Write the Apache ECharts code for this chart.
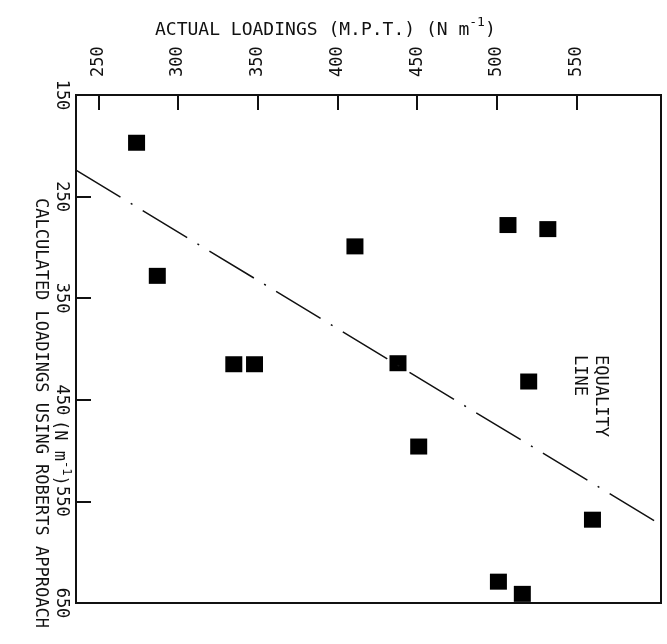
<!DOCTYPE html>
<html>
<head>
<meta charset="utf-8">
<script src="https://cdn.jsdelivr.net/npm/echarts@6/dist/echarts.min.js"></script>
<style>
  html, body { margin: 0; padding: 0; background: #fff; }
  #chart { width: 667px; height: 644px; }
</style>
</head>
<body>
<div id="chart"></div>
<script>
// measured values (N m^-1)
var actualLoadings = [274, 287, 335, 348, 411, 438, 451, 507, 532, 520, 560, 501, 516];
var calculatedLoadings = [197, 328, 415, 415, 299, 414, 496, 278, 282, 432, 568, 629, 641];

// equality line end points as drawn
var equalityX = [236, 603];
var equalityY = [224, 573];

var actualTicks = [250, 300, 350, 400, 450, 500, 550];
var calcTicks = [150, 250, 350, 450, 550, 650];

function renderLoadingsChart(chartID) {
  var echarts = window.echarts;
  var chartDom = document.getElementById(chartID);
  var myChart = echarts.init(chartDom);
  var option;
  var font = '"DejaVu Sans Mono", "Liberation Mono", monospace';
  var ink = '#111';

  var points = actualLoadings.map(function (a, i) {
    return [a, calculatedLoadings[i]];
  });
  var equality = equalityX.map(function (x, i) {
    return [x, equalityY[i]];
  });

  option = {
    animation: false,
    backgroundColor: '#fff',
    grid: {
      left: 76,
      right: 6,
      top: 95,
      bottom: 41,
      show: true,
      borderColor: ink,
      borderWidth: 2,
    },
    xAxis: {
      type: 'value',
      position: 'top',
      min: 236,
      max: 603,
      splitLine: { show: false },
      axisLine: { lineStyle: { color: ink, width: 2 } },
      axisTick: {
        inside: true,
        length: 15,
        customValues: actualTicks,
        lineStyle: { color: ink, width: 2 },
      },
      axisLabel: {
        rotate: -90,
        margin: 18,
        customValues: actualTicks,
        color: ink,
        fontFamily: font,
        fontSize: 17,
      },
    },
    yAxis: {
      type: 'value',
      inverse: true,
      min: 150,
      max: 650,
      splitLine: { show: false },
      axisLine: { lineStyle: { color: ink, width: 2 } },
      axisTick: {
        inside: true,
        length: 15,
        customValues: calcTicks,
        lineStyle: { color: ink, width: 2 },
      },
      axisLabel: {
        rotate: -90,
        margin: 6,
        customValues: calcTicks,
        color: ink,
        fontFamily: font,
        fontSize: 17,
      },
    },
    graphic: [
      {
        type: 'text',
        x: 155,
        y: 30,
        style: {
          text: '{t|ACTUAL LOADINGS (M.P.T.) (N m}{s|-1}{t|)}',
          verticalAlign: 'middle',
          fill: ink,
          rich: {
            t: { fontFamily: font, fontSize: 18, fill: ink },
            s: { fontFamily: font, fontSize: 13, fill: ink, padding: [0, 0, 14, 0] },
          },
        },
      },
      {
        type: 'text',
        x: 40,
        y: 198,
        rotation: -Math.PI / 2,
        style: {
          text: 'CALCULATED LOADINGS USING ROBERTS APPROACH',
          align: 'left',
          verticalAlign: 'middle',
          fontFamily: font,
          fontSize: 17,
          fill: ink,
        },
      },
      {
        type: 'text',
        x: 59,
        y: 420,
        rotation: -Math.PI / 2,
        style: {
          text: '{t|(N m}{s|-1}{t|)}',
          align: 'left',
          verticalAlign: 'middle',
          fill: ink,
          rich: {
            t: { fontFamily: font, fontSize: 17, fill: ink },
            s: { fontFamily: font, fontSize: 12, fill: ink, padding: [0, 0, 14, 0] },
          },
        },
      },
      {
        type: 'text',
        x: 600,
        y: 355,
        rotation: -Math.PI / 2,
        style: {
          text: 'EQUALITY',
          align: 'left',
          verticalAlign: 'middle',
          fontFamily: font,
          fontSize: 17,
          fill: ink,
        },
      },
      {
        type: 'text',
        x: 579,
        y: 355,
        rotation: -Math.PI / 2,
        style: {
          text: 'LINE',
          align: 'left',
          verticalAlign: 'middle',
          fontFamily: font,
          fontSize: 17,
          fill: ink,
        },
      },
    ],
    series: [
      {
        name: 'Equality',
        type: 'line',
        data: equality,
        symbol: 'none',
        clip: true,
        lineStyle: { color: ink, width: 1.5, type: [52, 12, 2, 12] },
      },
      {
        name: 'Loadings',
        type: 'scatter',
        data: points,
        symbol: 'rect',
        symbolSize: [17, 16],
        itemStyle: { color: '#000', opacity: 1 },
      },
    ],
  };

  option && myChart.setOption(option);
}

renderLoadingsChart('chart');
</script>
</body>
</html>
